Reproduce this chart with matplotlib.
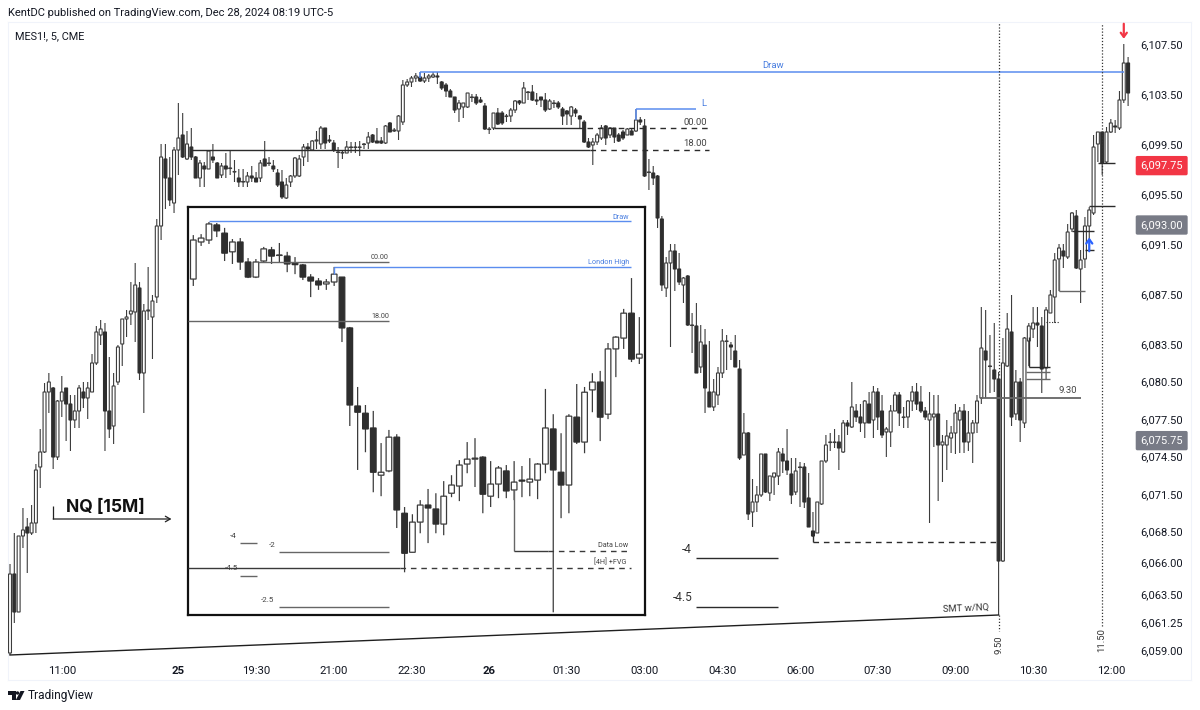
import numpy as np
import matplotlib
matplotlib.use("Agg")
import matplotlib.pyplot as plt
from matplotlib.patches import Polygon, Circle

plt.rcParams['font.family'] = ['Roboto', 'DejaVu Sans']

W, H = 1200, 710
PRICE_BASE = 6000

# MES1! 5 min candles, price minus PRICE_BASE
highs = [
    65.88,68.36,68.12,70.36,69.56,70.6,73.88,76.68,80.36,81.16,
    80.04,79,80.92,79.96,79.4,79.4,80.2,80.44,80.44,82.68,
    84.92,85.4,85.16,82.44,81.16,83.4,85.48,86.2,88.44,89.96,
    88.44,86.68,89.64,87.4,93.48,99.48,99.48,98.44,99.24,102.76,
    101.96,100.52,100.76,98.52,98.2,98.04,99,99.48,98.04,97.96,
    98.76,98.92,98.2,97.48,97.48,97.24,97.72,97.24,98.2,99.72,
    98.44,98.2,97.48,97.4,96.76,97,98.44,98.6,99.48,99.56,
    99.8,100.52,100.92,100.76,100.2,99.8,99.24,99,99.72,99.64,
    99.64,99.72,99.56,100.44,100.28,100.76,100.04,101,101.24,100.76,
    101.8,104.6,104.68,104.92,105.16,105.24,105.16,105.08,105.24,105.24,
    104.52,104.36,103.88,103.24,103,102.76,103.56,103.48,103.48,103.24,
    102.76,100.84,101.96,102.36,102.12,101.88,102.36,103,103,104.44,
    103.72,104.2,103.56,103.24,103.56,103.08,103,102.92,102.44,102.2,
    102.52,102.36,101.8,101.4,99.96,99.96,100.36,101,101,100.84,
    100.76,100.36,100.6,100.76,100.76,102.28,101.64,101.48,98.28,97.72,
    97,93.72,90.44,91.48,91.48,90.76,88.84,89,85.96,86.76,
    85,84.68,83.72,80.68,81.64,84.68,84.2,83.64,84.2,82.2,
    77.96,76.44,72.68,72.12,74.68,74.68,72.92,73.16,75.16,75.16,
    76.68,74.36,74.36,74.04,73.96,73.16,70.04,70.84,74.12,76.2,
    76.36,76.68,76.2,77.4,77.4,80.44,78.68,78.68,79,79.64,
    80.12,79.96,79.4,76.84,78.6,79.64,79.64,78.44,79,80.12,
    80.36,80.12,78.44,79.64,79.4,79.4,76.2,77.4,76.92,78.68,
    78.44,78.68,78.12,77.4,79.4,86.44,86.2,84.2,85.16,81.24,
    83.96,85.96,87.4,81.4,80.76,84.04,85.16,86.44,86.44,85.64,
    86.44,87.8,90.76,91.48,91.48,93.08,94.04,94.2,91,93.64,
    94.44,100.2,100.44,100.44,100.84,101.48,101.4,103.72,107.48,106.44,
]
lows = [
    58.6,61.16,62.04,67.16,65.16,68.2,68.36,71.96,74.76,77.96,
    73.48,74.2,77.64,75.72,74.92,76.76,76.76,78.36,77.48,79.64,
    81.8,83.4,74.92,75.96,75.48,80.2,81.72,84.04,85,83.64,
    80.6,77.96,85.4,82.28,86.76,91.8,94.28,94.52,93.96,97,
    98.36,98.2,98.2,96.76,96.04,96.04,97.48,97.96,96.76,96.76,
    96.76,97,96.44,96.04,96.04,96.04,96.44,96.44,96.44,97.72,
    97.72,97.24,96.04,95.08,95.08,96.04,96.76,96.84,97.72,98.04,
    99,99.08,99.08,99.08,99.56,98.84,97.56,98.28,98.76,98.76,
    98.76,98.52,99.08,99.08,99.56,99.56,99.48,99.48,100.44,100.44,
    99.8,101,104.04,104.04,104.44,104.44,104.36,104.44,104.76,104.28,
    103.8,103.24,103.24,101.96,101.24,101.56,102.36,102.84,102.6,102.76,
    100.6,100.28,100.6,101,101,101.24,101.24,101.96,102.6,102.76,
    103,102.92,102.6,102.44,102.04,102.2,102.36,102.28,101,101,
    101,101.64,100.76,99.56,99.16,97.8,99.4,99.8,99.4,99.96,
    99.56,99.64,99.8,100.2,100.2,100.44,101,96.84,95.8,96.2,
    92.76,87.72,87.24,83.24,87.72,88.2,86.76,84.92,82.76,81.16,
    81.16,77.96,78.44,78.12,78.6,80.76,81.4,82.2,81.64,74.2,
    74.6,69.4,68.84,70.04,71.24,71.56,70.92,71.4,72.2,73.16,
    73,70.68,71.4,70.44,70.36,68.84,68.04,68.36,70.6,73.96,
    74.92,75.16,73.4,74.76,76.2,76.76,77.24,76.44,75.96,77.16,
    75.96,76.6,75.96,74.44,75.24,78.12,76.92,76.76,76.76,78.12,
    78.2,77.96,77.4,69.16,75.24,70.92,72.44,73.4,74.76,74.68,
    74.76,74.76,74.92,73.96,76.36,78.68,79.16,79.56,79.64,61.8,
    66.04,81.64,76.92,77.4,75.64,76.76,81.72,83.96,83.24,79.56,
    80.6,85.96,85.16,87.72,89.56,90.28,92.44,89.48,86.76,89.56,
    91.8,93.8,98.04,97,97.96,100.36,100.36,100.6,102.76,102.52,
]
opens = [
    58.76,65.08,62.04,68.12,68.84,68.36,69.16,73.64,74.84,79.64,
    79.96,74.44,78.92,79.96,78.68,77.4,78.12,79.64,79.16,79.64,
    81.96,84.2,84.44,78.12,76.92,80.44,83.48,85.48,85.88,86.04,
    87.96,81.16,86.12,85.64,87.24,92.92,98.28,96.76,94.76,99,
    100.2,98.28,99.24,98.44,96.76,97.72,97.48,98.44,97.96,97,
    97.72,97.52,97.24,96.76,96.44,96.44,96.92,96.76,96.76,98.28,
    97.92,97.72,97.16,96.44,95.16,96.44,96.92,96.92,98.44,99.24,
    99,99.72,99.48,100.76,99.8,99.56,98.8,98.76,98.76,99.2,
    99.2,99.2,99.44,99.56,100.2,99.72,99.72,99.56,101.16,100.52,
    100.52,101.24,104.2,104.44,104.76,104.84,104.52,104.76,104.84,104.92,
    104.44,104.2,103.72,103.24,102.28,102.44,102.44,103.2,103.24,103,
    102.52,100.64,100.76,101.96,101.96,101.68,101.72,102.2,102.92,102.76,
    103.6,103.64,103,103.24,103,102.28,102.72,102.76,102.28,102.12,
    101.72,102.2,101.72,101.24,99.64,99.4,99.64,99.96,100.92,100.2,
    100.76,100.2,100.44,100.2,100.52,100.52,101.4,100.92,97.2,97.16,
    96.92,93.48,87.96,89.96,90.92,89.48,88.2,88.92,84.96,84.92,
    81.64,83.4,79.64,78.44,79.4,81.16,83.68,83.4,82.92,81.48,
    74.6,76.36,70.04,70.84,71.4,74.68,71.56,72.84,72.92,74.68,
    74.12,73.08,71.64,73.6,73.64,71.16,68.52,68.36,70.68,74.12,
    75.6,75.6,75.64,74.84,77.16,76.84,78.12,77.64,77.16,78.68,
    77.4,79.64,78.12,76.44,76.44,78.12,79.4,77.6,77.64,78.92,
    79.64,78.84,78.12,77.4,77.64,77.88,75.4,75.4,75.96,76.36,
    77.4,78.12,75.64,76.36,77.16,79.16,82.92,81.68,81.4,80.68,
    66.12,81.72,84.44,77.88,80.44,77.16,83.72,84.68,85.16,84.92,
    81.56,85.96,87.24,90.28,90.92,90.44,92.68,93.72,89.48,90.28,
    92.92,93.96,99.48,100.44,98.04,100.44,100.92,100.76,103,105.96,
]
closes = [
    65.08,62.04,68.12,68.6,68.36,69.16,73.4,74.84,79.64,80.44,
    74.44,78.92,79.64,78.68,77.4,78.12,79.96,79.16,79.96,81.96,
    84.44,84.68,78.12,76.68,80.12,83.24,85.48,85.64,86.12,88.2,
    81.16,86.12,86.2,86.92,92.92,98.44,96.76,95,99,99.96,
    98.44,99.48,98.44,96.76,97.96,97.48,98.92,98.2,96.76,97.72,
    97.48,97.56,97.28,96.44,96.48,96.92,96.76,96.44,97.96,97.72,
    97.96,97.48,96.2,95.24,96.2,96.92,98.36,98.28,99.24,99.08,
    99.72,99.8,100.76,99.56,99.72,99,98.84,98.8,99.24,99.24,
    99.24,99.24,99.48,100.04,99.64,99.56,99.56,100.92,100.44,100.6,
    101.72,104.2,104.44,104.76,104.92,104.52,104.76,104.92,105,104.84,
    103.96,103.72,103.24,102.2,102.76,102.76,103.56,103.24,102.76,102.84,
    100.68,100.68,101.96,101.08,101.16,101.72,102.2,102.92,102.76,103.96,
    103.64,103,102.92,103,102.2,102.92,102.76,102.44,101.72,101.88,
    102.44,101.96,101.48,99.64,99.24,99.64,100.2,100.76,99.96,100.76,
    100.04,99.72,99.96,100.68,100.2,101.4,101.24,96.92,97.24,96.76,
    93.56,88.2,89.96,90.92,89.48,88.44,88.76,85,85,81.16,
    83.64,79.96,78.44,79.64,81.16,83.72,83.72,83.24,81.64,74.36,
    76.36,69.88,70.84,71.4,74.68,71.64,72.92,73.16,74.84,74.12,
    73.4,71.4,73.32,73.64,70.84,68.84,68.12,70.84,74.12,75.4,
    75.64,75.64,75.16,77.16,76.92,78.44,77.64,77.16,78.92,77.16,
    79.64,77.64,76.2,76.68,78.12,79.4,77.96,77.64,78.92,79.64,
    78.68,78.12,77.64,77.88,77.88,75.4,75.64,76.12,76.36,77.96,
    78.12,75.64,76.36,77.16,78.92,83.16,82.2,81.72,80.68,66.12,
    81.96,84.68,77.64,80.44,77.4,83.96,84.92,85.16,85,81.48,
    86.2,87.4,90.2,91.16,90.52,92.44,93.96,89.56,90.2,92.92,
    94.2,99.24,100.44,97.96,100.44,101.16,100.84,103,105.96,103.56,
]

# NQ 15 min inset, points from the 00.00 level
inset_highs = [8.2,8.5,12.2,11.9,10.4,7.0,7.3,1.2,0.9,4.6,4.6,5.8,3.1,1.5,-0.6,-3.7,-4.9,-5.2,-1.5,-4.6,
    -19.8,-38.1,-43.6,-45.4,-55.2,-51.2,-52.5,-74.7,-76.9,-72.6,-69.2,-70.5,-66.8,-65.0,-60.4,-54.9,-53.7,-59.2,-60.7,-62.2,
    -61.9,-60.7,-62.2,-59.8,-61.3,-38.7,-46.4,-52.2,-46.4,-37.2,-38.1,-33.9,-33.2,-24.7,-22.6,-14.3,-4.9,-16.8]
inset_lows = [-7.3,4.9,5.5,7.6,0.3,-0.6,-2.4,-4.9,-4.9,0,-0.6,-0.3,-3.1,-3.7,-5.5,-10.7,-8.5,-8.5,-7.3,-24.4,
    -50.0,-63.4,-58.0,-70.2,-71.4,-64.1,-81.1,-94.6,-88.5,-82.7,-85.7,-82.7,-83.3,-71.7,-72.9,-64.4,-68.6,-76.6,-74.7,-72.0,
    -72.0,-72.6,-71.7,-71.4,-72.3,-64.4,-106.8,-78.1,-76.6,-55.5,-58.3,-45.8,-54.6,-47.9,-35.1,-26.5,-30.5,-31.1]
inset_opens = [-5.2,6.1,6.7,11.3,8.8,3.1,6.1,0,-4.6,0.3,3.7,2.0,1.8,-0.3,-0.9,-4.6,-5.8,-6.7,-6.1,-4.6,
    -20.1,-43.9,-46.1,-50.6,-65.0,-63.7,-53.4,-76.6,-88.5,-79.3,-74.1,-75.3,-79.9,-70.5,-68.3,-61.6,-60.1,-59.5,-71.4,-67.7,
    -63.7,-69.5,-66.5,-67.1,-66.5,-61.6,-50.9,-64.1,-68.0,-47.3,-54.9,-39.0,-36.6,-46.4,-26.5,-23.2,-15.6,-29.3]
inset_closes = [6.7,7.3,11.6,9.5,2.7,6.1,0,-4.6,0,4.0,1.8,2.1,-0.6,-0.8,-4.6,-5.8,-7.0,-6.1,-3.7,-20.1,
    -43.6,-45.8,-50.9,-64.1,-64.1,-53.4,-75.6,-88.8,-79.3,-74.1,-75.0,-79.9,-71.4,-68.0,-61.9,-60.1,-59.8,-70.8,-67.7,-62.8,
    -69.8,-67.1,-66.8,-66.2,-61.6,-50.6,-63.4,-68.0,-47.0,-54.9,-39.7,-36.6,-47.3,-26.5,-22.9,-15.6,-29.6,-28.1]

price_ticks = [6107.5,6103.5,6099.5,6095.5,6091.5,6087.5,6083.5,6080.5,6077.5,6074.5,6071.5,6068.5,6066,6063.5,6061.25,6059]
time_ticks = [12,39,57,75,93,111,129,147,165,183,201,219,237,255]
time_labels = ["11:00","25","19:30","21:00","22:30","26","01:30","03:00","04:30","06:00","07:30","09:00","10:30","12:00"]

LINE = "#2b2b2b"
GREY = "#666666"
BLUE = "#5b8def"
TEXT = "#131722"


def draw_candles(ax, o, h, l, c, width, lw):
    o, h, l, c = map(np.array, (o, h, l, c))
    x = np.arange(len(o))
    up = c >= o
    ax.vlines(x, l, h, color="#3c3c3c", lw=lw, zorder=2, snap=False)
    ax.bar(x[up], (c - o)[up], width, bottom=o[up], facecolor="white",
           edgecolor="#3c3c3c", lw=lw, zorder=3, snap=False)
    ax.bar(x[~up], (c - o)[~up], width, bottom=o[~up], facecolor="#2e2e2e",
           edgecolor="#2e2e2e", lw=lw, zorder=3, snap=False)


fig = plt.figure(figsize=(W / 100, H / 100), dpi=100)
fig.patch.set_facecolor("white")

# page layer for the header and the logo, in pixels
page = fig.add_axes([0, 0, 1, 1])
page.set_xlim(0, W)
page.set_ylim(H, 0)
page.axis("off")
page.text(8, 13, "KentDC published on TradingView.com, Dec 28, 2024 08:19 UTC-5",
          fontsize=8, color=TEXT, va="center")
page.add_patch(Polygon([(8, 691), (15.5, 691), (15.5, 700), (11.5, 700), (11.5, 694.5), (8, 694.5)], fc=TEXT))
page.add_patch(Circle((17.5, 693), 1.7, fc=TEXT))
page.add_patch(Polygon([(20.5, 691), (24.5, 691), (20, 700), (15.8, 700)], fc=TEXT))
page.text(28, 696, "TradingView", fontsize=8.6, color=TEXT, va="center")

# main chart
L, T, R, B = 8, 22, 1191, 680
ax = fig.add_axes([L / W, 1 - B / H, (R - L) / W, (B - T) / H])
ax.patch.set_alpha(0)
ax.set_xlim((L - 10) / 4.317, (R - 10) / 4.317)
ax.set_ylim(PRICE_BASE + 111 - 0.08 * B, PRICE_BASE + 111 - 0.08 * T)
for s in ax.spines.values():
    s.set_color("#f0f3fa")

highs_p = PRICE_BASE + np.array(highs)
lows_p = PRICE_BASE + np.array(lows)
opens_p = PRICE_BASE + np.array(opens)
closes_p = PRICE_BASE + np.array(closes)
draw_candles(ax, opens_p, highs_p, lows_p, closes_p, 0.68, 0.8)

ax.set_yticks(price_ticks)
ax.set_yticklabels([f"{v:,.2f}" for v in price_ticks], ha="right", fontsize=8, color=TEXT)
ax.yaxis.tick_right()
ax.tick_params(axis="y", length=0, pad=-5.8)
ax.set_xticks(time_ticks)
ax.set_xticklabels(time_labels, fontsize=8.2, color=TEXT)
ax.tick_params(axis="x", length=0, pad=-9.8)
for lab in ax.get_xticklabels():
    if lab.get_text() in ("25", "26"):
        lab.set_fontweight("bold")

ax.text(0.0062, 1 - 14 / (B - T), "MES1!, 5, CME", transform=ax.transAxes,
        fontsize=7.8, color=TEXT, va="center")

# price tags
for price, colour in [(6097.75, "#f23645"), (6093.0, "#787b86"), (6075.75, "#787b86")]:
    ax.text((1183 - L) / (R - L), price, f"{price:,.2f}", transform=ax.get_yaxis_transform(),
            ha="right", va="center", fontsize=8, color="white", zorder=6,
            bbox=dict(boxstyle="round,pad=0.42,rounding_size=0.15", fc=colour, ec="none"))


def seg(a, x0, x1, y, colour=LINE, lw=1.0, ls="-"):
    a.plot([x0, x1], [y, y], color=colour, lw=lw, ls=ls, zorder=4, solid_capstyle="butt")


def vseg(a, x, y0, y1, colour=LINE, lw=1.0, ls="-"):
    a.plot([x, x], [y0, y1], color=colour, lw=lw, ls=ls, zorder=4, solid_capstyle="butt")


DASH = (0, (4, 3.5))

# levels on the main chart
seg(ax, 95, 258, 6105.24, BLUE, 1.1)
vseg(ax, 95, 6105.24, 6104.8, BLUE, 1.1)
ax.text(176.7, 6105.75, "Draw", color="#4a7fe0", fontsize=6.8, ha="center", va="center")
seg(ax, 145, 159, 6102.28, BLUE, 1.1)
vseg(ax, 145, 6102.28, 6101.4, BLUE, 1.1)
ax.text(160.8, 6102.75, "L", color="#4a7fe0", fontsize=6.8, ha="center", va="center")
seg(ax, 112, 133, 6100.76)
seg(ax, 133.7, 162, 6100.76, LINE, 1.0, DASH)
ax.text(161.5, 6101.2, "00.00", color="#444444", fontsize=6.8, ha="right", va="center")
seg(ax, 42, 134.4, 6099.0)
seg(ax, 134.4, 162, 6099.0, LINE, 1.0, DASH)
ax.text(161.5, 6099.55, "18.00", color="#444444", fontsize=6.8, ha="right", va="center")

seg(ax, 158.9, 177.9, 6066.36)
ax.text(158, 6067.05, "-4", color="#333333", fontsize=8.5, ha="right", va="center")
seg(ax, 158.9, 177.9, 6062.44)
ax.text(158, 6063.2, "-4.5", color="#333333", fontsize=8.5, ha="right", va="center")
seg(ax, 186, 229.6, 6067.64, LINE, 1.0, DASH)
vseg(ax, 186, 6068.3, 6067.64)

# SMT line and time marks
ax.plot([0, 229], [lows_p[0], lows_p[229]], color="#1f1f1f", lw=1.0, zorder=4)
ax.text(221.5, 6062.28, "SMT w/NQ", color="#333333", fontsize=6.8, ha="center", va="center", rotation=2.4)
vseg(ax, 229, 6061.8, 6060.5, "#333333", 0.9, (0, (1, 1.5)))
vseg(ax, 229, 6081, 6109.2, "#333333", 0.9, (0, (1, 1.5)))
vseg(ax, 253, 6060.9, 6109.2, "#333333", 0.9, (0, (1, 1.5)))
ax.text(229, 6059.4, "9.50", color="#333333", fontsize=6.8, rotation=90, ha="center", va="center")
ax.text(253, 6059.8, "11.50", color="#333333", fontsize=6.8, rotation=90, ha="center", va="center")

# marks near the morning run
seg(ax, 224.7, 248, 6079.16, GREY, 1.3)
ax.text(245, 6079.75, "9.30", color="#444444", fontsize=6.8, ha="center", va="center")
seg(ax, 236, 241, 6081.64)
vseg(ax, 236, 6081.64, 6084.04)
seg(ax, 235.4, 241, 6081.24, GREY)
seg(ax, 235.4, 241, 6080.68, GREY)
seg(ax, 240, 243, 6085.24, LINE, 0.8, (0, (1, 1.5)))
seg(ax, 243, 249, 6087.72, GREY)
vseg(ax, 243, 6087.72, 6090.36, GREY)
seg(ax, 246, 251, 6092.52)
seg(ax, 249, 251, 6091.0)
seg(ax, 250, 256, 6094.52)
seg(ax, 252, 256, 6097.96)

ax.annotate("", xy=(258, 6107.9), xytext=(258, 6109.1), zorder=6,
            arrowprops=dict(arrowstyle="->,head_width=0.22,head_length=0.3", color="#f23645", lw=1.6, shrinkA=0, shrinkB=0))
ax.annotate("", xy=(250, 6092.0), xytext=(250, 6090.9), zorder=6,
            arrowprops=dict(arrowstyle="->,head_width=0.22,head_length=0.3", color="#2962ff", lw=1.6, shrinkA=0, shrinkB=0))

# NQ label
ax.text(12.9, 6070.36, "NQ [15M]", fontsize=12.6, fontweight="bold", family="Inter", color="#111111", va="center")
vseg(ax, 10, 6069.48, 6070.52, "#222222", 0.9)
ax.annotate("", xy=(37.4, 6069.48), xytext=(10, 6069.48), zorder=6,
            arrowprops=dict(arrowstyle="->,head_width=0.2,head_length=0.35", color="#222222", lw=0.9, shrinkA=0, shrinkB=0))

# pasted NQ chart
iL, iT, iR, iB = 188, 207, 645, 615
ins = fig.add_axes([iL / W, 1 - iB / H, (iR - iL) / W, (iB - iT) / H])
ins.set_facecolor("white")
ins.set_xlim((iL - 193.3) / 7.825, (iR - 193.3) / 7.825)
ins.set_ylim((262 - iB) / 3.28, (262 - iT) / 3.28)
ins.set_xticks([])
ins.set_yticks([])
for s in ins.spines.values():
    s.set_color("#111111")
    s.set_linewidth(1.6)
draw_candles(ins, inset_opens, inset_highs, inset_lows, inset_closes, 0.72, 0.9)

seg(ins, 2, 55.9, 12.5, BLUE, 1.0)
ins.text(55.7, 13.7, "Draw", color="#4a7fe0", fontsize=5.2, ha="right", va="center")
seg(ins, 18, 55.9, -1.5, BLUE, 1.0)
vseg(ins, 18, -1.5, -3.7, BLUE, 1.0)
ins.text(55.7, 0.0, "London High", color="#4a7fe0", fontsize=5.2, ha="right", va="center")
seg(ins, 8.3, 25, 0.0, GREY)
ins.text(25, 1.5, "00.00", color="#444444", fontsize=5.2, ha="right", va="center")
seg(ins, -0.7, 25, -18.0, GREY)
ins.text(25, -16.5, "18.00", color="#444444", fontsize=5.2, ha="right", va="center")
seg(ins, 11, 25, -88.5, GREY)
ins.text(10.5, -86.2, "-2", color="#444444", fontsize=5.8, ha="right", va="center")
seg(ins, 6, 8.1, -85.7, GREY)
ins.text(5.5, -83.5, "-4", color="#444444", fontsize=5.8, ha="right", va="center")
seg(ins, -0.7, 26.4, -93.3, "#3a3a3a")
seg(ins, 26.4, 55.9, -93.3, "#3a3a3a", 1.0, DASH)
ins.text(5.8, -93.3, "-4.5", color="#444444", fontsize=5.8, ha="right", va="center")
seg(ins, 6, 8.1, -95.7, GREY)
seg(ins, 11, 25, -105.1, GREY)
ins.text(10.4, -103.1, "-2.5", color="#444444", fontsize=5.8, ha="right", va="center")
vseg(ins, 41, -69.5, -88.1, GREY)
seg(ins, 41, 45.3, -88.1, "#3a3a3a")
seg(ins, 45.3, 55.9, -88.1, "#3a3a3a", 1.0, DASH)
ins.text(55.6, -86.5, "Data Low", color="#444444", fontsize=5.2, ha="right", va="center")
ins.text(55.3, -91.6, "[4H] +FVG", color="#444444", fontsize=5.2, ha="right", va="center")

fig.savefig("out.png", dpi=100)
